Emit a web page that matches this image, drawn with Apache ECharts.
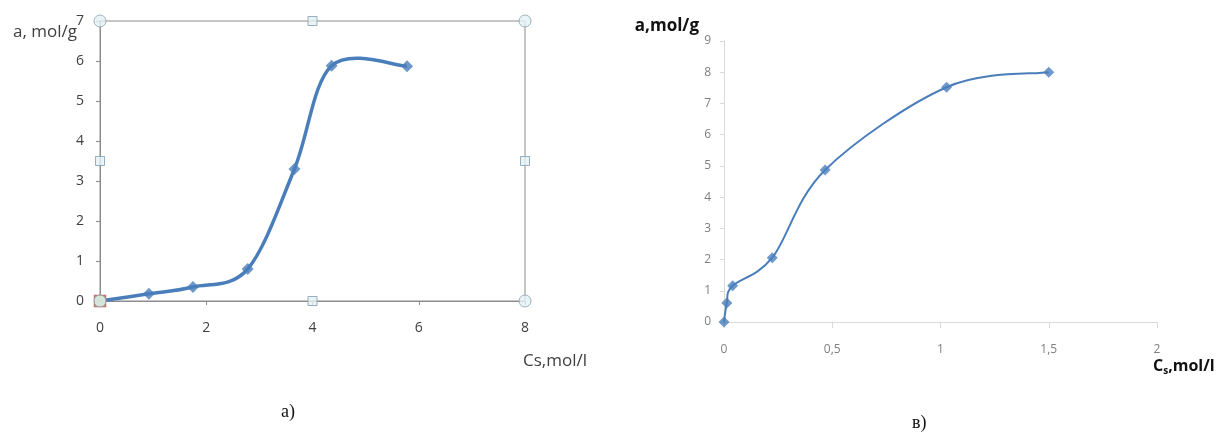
<!DOCTYPE html>
<html><head><meta charset="utf-8">
<script src="https://cdn.jsdelivr.net/npm/echarts@6/dist/echarts.min.js"></script>
<style>html,body{margin:0;padding:0;background:#fff}#c{width:1219px;height:433px}</style>
</head><body><div id="c"></div>
<script>
// Chart a
const aX = [0, 0.92, 1.75, 2.78, 3.66, 4.36, 5.78];
const aY = [0, 0.18, 0.35, 0.8, 3.3, 5.88, 5.87];
const aXTicks = [0, 2, 4, 6, 8];
const aYTicks = [0, 1, 2, 3, 4, 5, 6, 7];
// Chart b
const bX = [0, 0.013, 0.04, 0.223, 0.467, 1.028, 1.5];
const bY = [0, 0.61, 1.16, 2.06, 4.87, 7.52, 8.0];
const bXTicks = [0, 0.5, 1, 1.5, 2];
const bYTicks = [0, 1, 2, 3, 4, 5, 6, 7, 8, 9];
// selection handles of chart a (Excel frame)
const handleCorners = [[0, 0], [8, 0], [0, 7], [8, 7]];
const handleMids = [[4, 0], [4, 7], [0, 3.5], [8, 3.5]];
const captions = ['а)', 'в)'];

const blue = '#4a7ebb';
const font = 'Open Sans, Noto Sans, sans-serif';
const zip = (xs, ys) => xs.map((x, i) => [x, ys[i]]);

// Excel-like smoothed line (Catmull-Rom through the points, computed in pixel space via the axes)
function splineSeries(xs, ys, xi, yi, width) {
  return {
    type: 'custom', xAxisIndex: xi, yAxisIndex: yi, data: zip(xs, ys), silent: true, z: 2,
    renderItem: (params, api) => {
      if (params.dataIndex !== 0) return;
      const p = xs.map((x, i) => api.coord([x, ys[i]]));
      const n = p.length;
      let d = 'M' + p[0][0] + ',' + p[0][1];
      for (let i = 0; i < n - 1; i++) {
        const p0 = p[Math.max(i - 1, 0)], p1 = p[i], p2 = p[i + 1], p3 = p[Math.min(i + 2, n - 1)];
        const c1x = p1[0] + (p2[0] - p0[0]) / 6, c1y = p1[1] + (p2[1] - p0[1]) / 6;
        const c2x = p2[0] - (p3[0] - p1[0]) / 6, c2y = p2[1] - (p3[1] - p1[1]) / 6;
        d += ' C' + c1x + ',' + c1y + ' ' + c2x + ',' + c2y + ' ' + p2[0] + ',' + p2[1];
      }
      return {type: 'path', shape: {pathData: d}, style: {stroke: blue, lineWidth: width, fill: null, lineJoin: 'round'}};
    }
  };
}

const chart = echarts.init(document.getElementById('c'), null, {renderer: 'canvas'});
chart.setOption({
  animation: false,
  grid: [
    {left: 100, top: 21, width: 425, height: 280, show: true, borderColor: '#8c8c8c', borderWidth: 1},
    {left: 724, top: 41, width: 433, height: 281}
  ],
  xAxis: [
    {gridIndex: 0, type: 'value', min: aXTicks[0], max: aXTicks[aXTicks.length - 1], interval: 2,
     name: 'Cs,mol/l', nameLocation: 'end', nameGap: 30, nameMoveOverlap: false,
     nameTextStyle: {fontFamily: font, fontSize: 17, color: '#404040', align: 'center', verticalAlign: 'top', padding: [52, 0, 0, 0]},
     axisLine: {lineStyle: {color: '#8c8c8c'}},
     axisTick: {show: true, length: 4, lineStyle: {color: '#8c8c8c'}},
     axisLabel: {fontFamily: font, fontSize: 14, color: '#404040', margin: 20},
     splitLine: {show: false}},
    {gridIndex: 1, type: 'value', min: bXTicks[0], max: bXTicks[bXTicks.length - 1], interval: 0.5,
     name: '{c|C}{s|s}{c|,mol/l}', nameLocation: 'end', nameGap: -4, nameMoveOverlap: false,
     nameTextStyle: {align: 'left', verticalAlign: 'top', padding: [34, 0, 0, 0],
       rich: {c: {fontFamily: font, fontSize: 16, fontWeight: 'bold', color: '#111'},
              s: {fontFamily: font, fontSize: 10, fontWeight: 'bold', color: '#111', verticalAlign: 'bottom', padding: [10, 0, 0, 0]}}},
     axisLine: {lineStyle: {color: '#d9d9d9'}},
     axisTick: {show: true, length: 6, lineStyle: {color: '#d9d9d9'}},
     axisLabel: {fontFamily: font, fontSize: 12, color: '#7f7f7f', margin: 22,
       formatter: v => String(v).replace('.', ',')},
     splitLine: {show: false}}
  ],
  yAxis: [
    {gridIndex: 0, type: 'value', min: aYTicks[0], max: aYTicks[aYTicks.length - 1], interval: 1,
     name: 'a, mol/g', nameLocation: 'end', nameGap: -11, nameMoveOverlap: false,
     nameTextStyle: {fontFamily: font, fontSize: 17, color: '#404040', align: 'right', verticalAlign: 'middle', padding: [0, 23, 0, 0]},
     axisLine: {lineStyle: {color: '#8c8c8c'}},
     axisTick: {show: true, length: 4, lineStyle: {color: '#8c8c8c'}},
     axisLabel: {fontFamily: font, fontSize: 14, color: '#404040', margin: 16},
     splitLine: {show: false}},
    {gridIndex: 1, type: 'value', min: bYTicks[0], max: bYTicks[bYTicks.length - 1], interval: 1,
     name: 'a,mol/g', nameLocation: 'end', nameGap: 15, nameMoveOverlap: false,
     nameTextStyle: {fontFamily: font, fontSize: 17, fontWeight: 'bold', color: '#111', align: 'right', verticalAlign: 'middle', padding: [0, 25, 0, 0]},
     axisLine: {show: true, lineStyle: {color: '#d9d9d9'}},
     axisTick: {show: true, length: 4, lineStyle: {color: '#d9d9d9'}},
     axisLabel: {fontFamily: font, fontSize: 12, color: '#7f7f7f', margin: 13},
     splitLine: {show: false}}
  ],
  series: [
    splineSeries(aX, aY, 0, 0, 3.5),
    {type: 'scatter', xAxisIndex: 0, yAxisIndex: 0, data: zip(aX, aY),
     symbol: 'diamond', symbolSize: 12, itemStyle: {color: blue}, z: 3},
    {type: 'scatter', xAxisIndex: 0, yAxisIndex: 0, data: [[0, 0]], symbol: 'rect', symbolSize: 11,
     itemStyle: {color: '#9bbb59', borderColor: '#c0504d', borderWidth: 1.5}, z: 4, silent: true},
    {type: 'scatter', xAxisIndex: 0, yAxisIndex: 0, data: handleCorners, symbol: 'circle', symbolSize: 12,
     itemStyle: {color: '#e4f1f4', borderColor: '#8aa0ae', borderWidth: 1}, z: 5, silent: true},
    {type: 'scatter', xAxisIndex: 0, yAxisIndex: 0, data: handleMids, symbol: 'rect', symbolSize: 9,
     itemStyle: {color: '#e4f1f4', borderColor: '#7f9db0', borderWidth: 1}, z: 5, silent: true},
    splineSeries(bX, bY, 1, 1, 2),
    {type: 'scatter', xAxisIndex: 1, yAxisIndex: 1, data: zip(bX, bY),
     symbol: 'diamond', symbolSize: 11, itemStyle: {color: blue}, z: 3}
  ],
  graphic: [
    {type: 'text', left: 281, top: 403, style: {text: captions[0], font: '18px "Liberation Serif", serif', fill: '#111'}},
    {type: 'text', left: 912, top: 414, style: {text: captions[1], font: '18px "Liberation Serif", serif', fill: '#111'}}
  ]
});
</script></body></html>
